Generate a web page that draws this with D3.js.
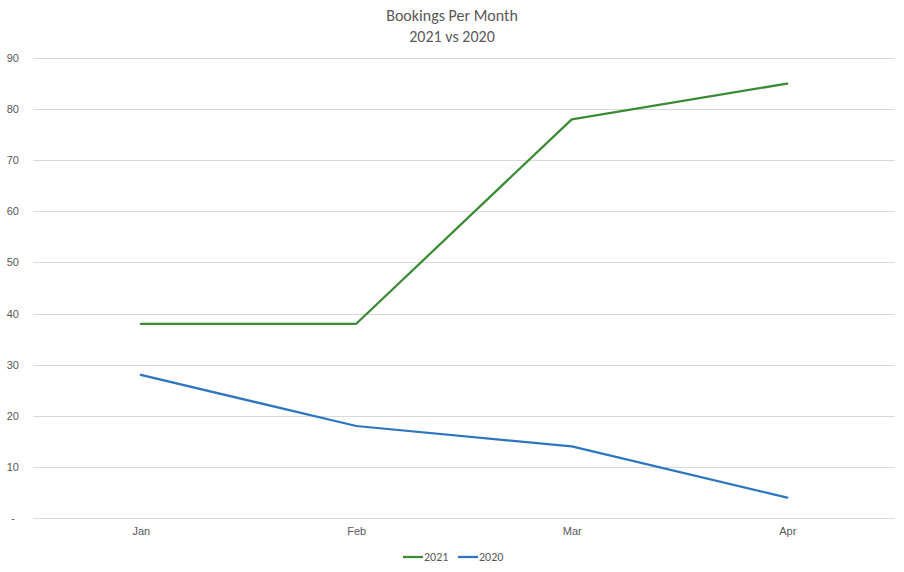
<!DOCTYPE html>
<html><head><meta charset="utf-8">
<script src="https://cdn.jsdelivr.net/npm/d3@7"></script>
<style>body{margin:0;background:#fff}svg{font-family:Calibri,Carlito,Lato,"Open Sans","Liberation Sans",sans-serif}</style>
</head><body><svg id="c" width="904" height="572"></svg>
<script>
const months = ["Jan","Feb","Mar","Apr"];
const series2021 = [38,38,78,85];
const series2020 = [28,18,14,4];
const yTicks = [0,10,20,30,40,50,60,70,80,90];
const seriesNames = ["2021","2020"];
const colors = ["#3b8a34","#2e75c0"];

(function(){
const svg = d3.select("#c");
const pL=33,pR=895,pT=58,pB=518;
const x = d3.scalePoint().domain(months).range([pL,pR]).padding(0.5);
const y = d3.scaleLinear().domain([0,90]).range([pB,pT]);

const grid = svg.append("g");
grid.selectAll("line").data(yTicks).join("line")
  .attr("x1",pL).attr("x2",pR).attr("y1",d=>Math.round(y(d))+0.5).attr("y2",d=>Math.round(y(d))+0.5)
  .attr("stroke","#d9d9d9").attr("stroke-width",1);

const yAxis = d3.axisLeft(y).tickValues(yTicks).tickSize(0).tickPadding(0)
  .tickFormat(d=>d===0?"-":d);
const gy = svg.append("g").attr("transform","translate(19,0)").call(yAxis);
gy.select(".domain").remove();
gy.selectAll("text").attr("fill","#595959").style("font-size","11px")
  .attr("dx",d=>d===0?-4:0);

const xAxis = d3.axisBottom(x).tickSize(0).tickPadding(0);
const gx = svg.append("g").attr("transform","translate(0,527)").call(xAxis);
gx.select(".domain").remove();
gx.selectAll("text").attr("fill","#595959").style("font-size","11px");

const line = d3.line().x((d,i)=>x(months[i])).y(d=>y(d));
[series2021,series2020].forEach((s,i)=>{
  svg.append("path").datum(s).attr("d",line).attr("fill","none")
    .attr("stroke",colors[i]).attr("stroke-width",2.25).attr("stroke-linejoin","round").attr("stroke-linecap","round");
});

svg.append("text").attr("x",452).attr("y",21).attr("text-anchor","middle")
  .attr("fill","#595959").style("font-size","16px").text("Bookings Per Month");
svg.append("text").attr("x",452).attr("y",42).attr("text-anchor","middle")
  .attr("fill","#595959").style("font-size","16px").text("2021 vs 2020");

const legX=[403,458];
seriesNames.forEach((n,i)=>{
  const g=svg.append("g").attr("transform",`translate(${legX[i]},557)`);
  g.append("line").attr("x1",0).attr("x2",20).attr("y1",0).attr("y2",0).attr("stroke",colors[i]).attr("stroke-width",2.25);
  g.append("text").attr("x",21).attr("y",4).attr("fill","#595959").style("font-size","12px").text(n);
});
})();
</script></body></html>
